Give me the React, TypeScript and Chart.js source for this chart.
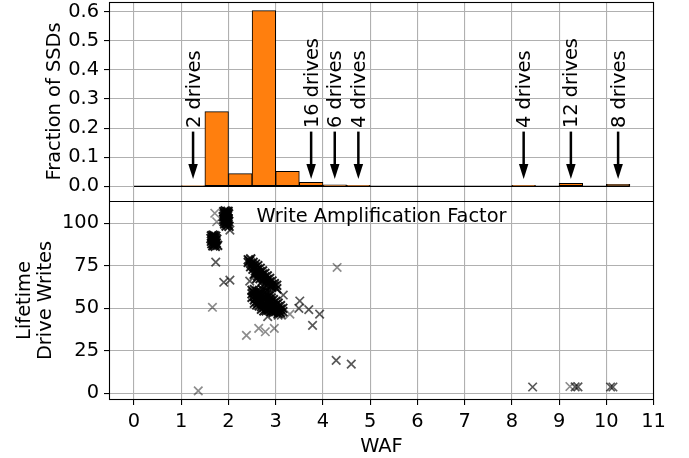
import React, { useEffect, useRef } from 'react';
import { Chart, registerables } from 'chart.js';

Chart.register(...registerables);

// ---------- data ----------
const BIN_CENTERS = [0.25, 0.75, 1.25, 1.75, 2.25, 2.75, 3.25, 3.75, 4.25, 4.75, 5.25, 5.75, 6.25, 6.75, 7.25, 7.75, 8.25, 8.75, 9.25, 9.75, 10.25];
const BIN_FRACTIONS = [0, 0, 0.0017, 0.2564, 0.0433, 0.6034, 0.0515, 0.0137, 0.0051, 0.0034, 0, 0, 0, 0, 0, 0, 0.0034, 0, 0.0103, 0, 0.0069];
const BASELINE_X = [0, 10.5];

const X_TICKS = [0, 1, 2, 3, 4, 5, 6, 7, 8, 9, 10, 11];
const FRAC_TICKS = [0, 0.1, 0.2, 0.3, 0.4, 0.5, 0.6];
const LDW_TICKS = [0, 25, 50, 75, 100];

const ANNOT_WAF = [1.25, 3.75, 4.25, 4.75, 8.25, 9.25, 10.25];
const ANNOT_LABELS = ['2 drives', '16 drives', '6 drives', '4 drives', '4 drives', '12 drives', '8 drives'];
const ARROW_TAIL = 0.188;
const ARROW_TIP = 0.025;
const ANNOT_TEXT_Y = 0.2;

const LIGHT_POINTS: [number, number][] = [
  [1.71, 105.9], [1.75, 100.9], [1.66, 50.6], [1.36, 1.4], [2.38, 34.1], [2.64, 38.2],
  [2.78, 36.2], [2.97, 38.2], [3.30, 46.6], [4.30, 74.0], [9.23, 4.0],
];

const ISOLATED_POINTS: [number, number][] = [
  [1.73, 77.2], [1.90, 65.3], [2.03, 66.6], [2.03, 96.0], [2.45, 66.0], [3.16, 57.8],
  [3.49, 50.0], [3.51, 54.3], [3.70, 49.2], [3.93, 46.6], [3.78, 39.9], [2.83, 45.1],
  [3.05, 46.0], [3.12, 46.0], [4.28, 19.4], [4.60, 17.2], [8.44, 3.7], [9.34, 3.8],
  [9.40, 3.8], [10.09, 3.7], [10.14, 3.7],
];

const CLUSTER_A: [number, number][] = [
  [1.90, 106.8], [1.93, 107.2], [1.96, 106.9], [1.99, 107.0], [1.91, 105.3], [1.94, 105.8],
  [1.97, 105.1], [2.00, 105.5], [1.89, 103.9], [1.92, 104.2], [1.95, 103.6], [1.98, 104.4],
  [1.90, 102.3], [1.93, 102.8], [1.96, 102.1], [1.99, 102.6], [1.91, 100.9], [1.94, 101.3],
  [1.97, 100.6], [2.00, 101.0], [1.92, 99.6], [1.96, 99.9], [1.99, 99.3], [1.95, 98.4], [2.01, 98.2],
  [1.915, 106.0], [1.945, 104.5], [1.975, 103.0], [1.925, 101.8], [1.955, 100.2], [1.985, 106.2],
];

const CLUSTER_B: [number, number][] = [
  [1.64, 92.5], [1.67, 93.0], [1.70, 92.7], [1.73, 92.3], [1.63, 91.0], [1.66, 91.5],
  [1.69, 90.8], [1.72, 91.2], [1.75, 90.6], [1.64, 89.4], [1.67, 89.9], [1.70, 89.2],
  [1.73, 89.6], [1.65, 88.0], [1.68, 88.3], [1.71, 87.8], [1.74, 88.4], [1.67, 86.8],
  [1.72, 86.5], [1.77, 87.0], [1.655, 90.2], [1.685, 91.9], [1.715, 89.9], [1.695, 87.2],
];

const CLUSTER_C_UPPER: [number, number][] = [
  [2.42, 78.5], [2.42, 77.0], [2.47, 79.0], [2.47, 76.5], [2.47, 74.5],
  [2.52, 77.0], [2.52, 75.0], [2.52, 73.0], [2.57, 76.0], [2.57, 74.0], [2.57, 72.0], [2.57, 70.5],
  [2.62, 75.0], [2.62, 73.0], [2.62, 71.0], [2.62, 69.0], [2.67, 73.5], [2.67, 71.5], [2.67, 69.5], [2.67, 67.5],
  [2.72, 72.0], [2.72, 70.0], [2.72, 68.0], [2.72, 66.0], [2.77, 70.5], [2.77, 68.5], [2.77, 66.5], [2.77, 64.5],
  [2.82, 69.0], [2.82, 67.0], [2.82, 65.0], [2.87, 67.5], [2.87, 65.5], [2.87, 63.5],
  [2.92, 66.0], [2.92, 64.0], [2.92, 62.5], [2.97, 64.5], [2.97, 63.0], [3.02, 63.5], [3.02, 61.5],
  [2.445, 77.8], [2.495, 75.8], [2.545, 74.5], [2.595, 72.5], [2.645, 70.5], [2.695, 69.0],
  [2.745, 67.3], [2.795, 65.8], [2.845, 64.3], [2.895, 63.0], [2.545, 70.0], [2.60, 67.5],
];

const CLUSTER_C_LOWER: [number, number][] = [
  [2.50, 60.5], [2.50, 58.5], [2.50, 56.5],
  [2.55, 61.0], [2.55, 59.0], [2.55, 57.0], [2.55, 55.0], [2.55, 53.0],
  [2.60, 60.0], [2.60, 58.0], [2.60, 56.0], [2.60, 54.0], [2.60, 52.0],
  [2.65, 59.5], [2.65, 57.5], [2.65, 55.5], [2.65, 53.5], [2.65, 51.5],
  [2.70, 59.0], [2.70, 57.0], [2.70, 55.0], [2.70, 53.0], [2.70, 51.0], [2.70, 49.5],
  [2.75, 58.5], [2.75, 56.5], [2.75, 54.5], [2.75, 52.5], [2.75, 50.5], [2.75, 48.5],
  [2.80, 58.0], [2.80, 56.0], [2.80, 54.0], [2.80, 52.0], [2.80, 50.0], [2.80, 48.5],
  [2.85, 57.0], [2.85, 55.0], [2.85, 53.0], [2.85, 51.0], [2.85, 49.0],
  [2.90, 56.0], [2.90, 54.0], [2.90, 52.0], [2.90, 50.0], [2.90, 48.0],
  [2.95, 55.0], [2.95, 53.0], [2.95, 51.0], [2.95, 49.0], [2.95, 47.5],
  [3.00, 54.0], [3.00, 52.0], [3.00, 50.0], [3.00, 48.0],
  [3.05, 53.0], [3.05, 51.0], [3.05, 49.0], [3.05, 47.0],
  [3.10, 51.5], [3.10, 49.5], [3.10, 47.5], [3.15, 50.0], [3.15, 48.0],
  [2.525, 59.5], [2.575, 56.0], [2.625, 53.0], [2.675, 58.5], [2.675, 54.5], [2.725, 52.0],
  [2.775, 55.5], [2.825, 50.0], [2.875, 53.5], [2.925, 49.0], [2.975, 51.5], [3.025, 49.5],
  [3.075, 48.0], [2.72, 61.0], [2.80, 60.0], [2.88, 59.0],
];

// ---------- styling ----------
const FONT = 'DejaVu Sans';
const FS = 19.4;
const GRID = '#b0b0b0';
const PLOT_TOP = 2;

const toXY = (pts: [number, number][]) => pts.map(([x, y]) => ({ x, y }));

const overlayPlugin = {
  id: 'overlay',
  afterLayout(chart: any) {
    const a = chart.chartArea;
    const ys = chart.scales.y, ys2 = chart.scales.y2;
    if (!a || !ys || !ys2) return;
    a.top = PLOT_TOP;
    a.height = a.bottom - a.top;
    const mid = (a.top + a.bottom) / 2;
    ys.top = a.top; ys.bottom = mid; ys.height = mid - a.top; ys.configure();
    ys2.top = mid; ys2.bottom = a.bottom; ys2.height = a.bottom - mid; ys2.configure();
  },
  afterDatasetsDraw(chart: any) {
    const { ctx, scales } = chart;
    const xs = scales.x, ys = scales.y;
    ctx.save();
    ctx.fillStyle = '#000';
    ctx.strokeStyle = '#000';
    ANNOT_WAF.forEach((w, i) => {
      const px = xs.getPixelForValue(w);
      const tail = ys.getPixelForValue(ARROW_TAIL);
      const tip = ys.getPixelForValue(ARROW_TIP);
      const headLen = 15, headW = 9.5;
      ctx.lineWidth = 2.5;
      ctx.beginPath();
      ctx.moveTo(px, tail);
      ctx.lineTo(px, tip - headLen + 1);
      ctx.stroke();
      ctx.beginPath();
      ctx.moveTo(px - headW / 2, tip - headLen);
      ctx.lineTo(px + headW / 2, tip - headLen);
      ctx.lineTo(px, tip);
      ctx.closePath();
      ctx.fill();
      const ty = ys.getPixelForValue(ANNOT_TEXT_Y);
      ctx.save();
      ctx.translate(px + 6.5, ty);
      ctx.rotate(-Math.PI / 2);
      ctx.font = `${FS}px "${FONT}"`;
      ctx.textAlign = 'left';
      ctx.textBaseline = 'alphabetic';
      ctx.fillText(ANNOT_LABELS[i], 0, 0);
      ctx.restore();
    });
    ctx.restore();
  },
  afterDraw(chart: any) {
    const { ctx, chartArea: a, scales } = chart;
    const ys = scales.y, ys2 = scales.y2;
    ctx.save();
    ctx.font = `${FS}px "${FONT}"`;
    ctx.fillStyle = '#000';
    ctx.textAlign = 'center';
    ctx.textBaseline = 'alphabetic';
    const cx = (a.left + a.right) / 2;
    ctx.fillText('Write Amplification Factor', cx, ys2.top + 20.5);
    ctx.fillText('WAF', cx, a.bottom + 51.7);
    const rot = (t: string, x: number, y: number) => {
      ctx.save();
      ctx.translate(x, y);
      ctx.rotate(-Math.PI / 2);
      ctx.textAlign = 'center';
      ctx.fillText(t, 0, 0);
      ctx.restore();
    };
    rot('Fraction of SSDs', a.left - 48.6, (ys.top + ys.bottom) / 2);
    rot('Lifetime', a.left - 79.3, (ys2.top + ys2.bottom) / 2);
    rot('Drive Writes', a.left - 57.6, (ys2.top + ys2.bottom) / 2);
    ctx.strokeStyle = '#000';
    ctx.lineWidth = 1.1;
    ctx.strokeRect(a.left + 0.5, a.top + 0.5, a.right - a.left - 1, a.bottom - a.top - 1);
    ctx.beginPath();
    ctx.moveTo(a.left, Math.round(ys2.top) + 0.5);
    ctx.lineTo(a.right, Math.round(ys2.top) + 0.5);
    ctx.stroke();
    ctx.restore();
  },
};

export default function App() {
  const ref = useRef<HTMLCanvasElement>(null);
  useEffect(() => {
    if (!ref.current) return;
    const tickFont = { family: FONT, size: FS };
    const gridOpts = { color: GRID, lineWidth: 1.1, drawTicks: true, tickLength: 5, tickColor: '#000', tickWidth: 1.1 };
    const fitY = (s: any) => { s.width = 109; s.paddingTop = 0; s.paddingBottom = 0; };
    const chart = new Chart(ref.current, {
      type: 'bar',
      data: {
        datasets: [
          {
            type: 'bar',
            data: BIN_CENTERS.map((x, i) => ({ x, y: BIN_FRACTIONS[i] })),
            backgroundColor: '#ff7f0e',
            borderColor: '#000',
            borderWidth: 1,
            borderSkipped: false,
            barPercentage: 1,
            categoryPercentage: 1,
            xAxisID: 'x',
            yAxisID: 'y',
          } as any,
          {
            type: 'line',
            data: BASELINE_X.map((x) => ({ x, y: 0 })),
            borderColor: '#000',
            borderWidth: 1.2,
            pointRadius: 0,
            xAxisID: 'x',
            yAxisID: 'y',
          } as any,
          {
            type: 'scatter',
            data: toXY(LIGHT_POINTS),
            pointStyle: 'crossRot',
            pointRadius: 6,
            borderColor: 'rgba(0,0,0,0.45)',
            borderWidth: 1.7,
            xAxisID: 'x',
            yAxisID: 'y2',
          } as any,
          {
            type: 'scatter',
            data: toXY(ISOLATED_POINTS),
            pointStyle: 'crossRot',
            pointRadius: 6,
            borderColor: 'rgba(0,0,0,0.66)',
            borderWidth: 1.7,
            xAxisID: 'x',
            yAxisID: 'y2',
          } as any,
          {
            type: 'scatter',
            data: toXY([...CLUSTER_A, ...CLUSTER_B, ...CLUSTER_C_UPPER, ...CLUSTER_C_LOWER]),
            pointStyle: 'crossRot',
            pointRadius: 6.3,
            borderColor: 'rgba(0,0,0,0.88)',
            borderWidth: 2,
            xAxisID: 'x',
            yAxisID: 'y2',
          } as any,
        ],
      },
      options: {
        responsive: false,
        animation: false,
        events: [],
        layout: { padding: { left: 0, right: 35, top: 2, bottom: 0 } },
        plugins: { legend: { display: false }, tooltip: { enabled: false } },
        scales: {
          y2: {
            type: 'linear',
            position: 'left',
            stack: 'panels',
            stackWeight: 1,
            min: -3.94,
            max: 113.1,
            afterFit: fitY,
            afterBuildTicks: (s: any) => { s.ticks = LDW_TICKS.map((v) => ({ value: v })); },
            ticks: { font: tickFont, color: '#000', padding: 5, autoSkip: false, callback: (v: any) => String(v) },
            grid: gridOpts,
            border: { display: false },
          },
          y: {
            type: 'linear',
            position: 'left',
            stack: 'panels',
            stackWeight: 1,
            min: -0.0505,
            max: 0.6333,
            afterFit: fitY,
            afterBuildTicks: (s: any) => { s.ticks = FRAC_TICKS.map((v) => ({ value: v })); },
            ticks: { font: tickFont, color: '#000', padding: 5, autoSkip: false, callback: (v: any) => Number(v).toFixed(1) },
            grid: gridOpts,
            border: { display: false },
          },
          x: {
            type: 'linear',
            position: 'bottom',
            min: -0.53,
            max: 11.01,
            offset: false,
            afterFit: (s: any) => { s.height = 58; s.paddingLeft = 0; s.paddingRight = 0; },
            afterBuildTicks: (s: any) => { s.ticks = X_TICKS.map((v) => ({ value: v })); },
            ticks: { font: tickFont, color: '#000', padding: 5, maxRotation: 0, autoSkip: false, callback: (v: any) => String(v) },
            grid: { ...gridOpts, offset: false },
            border: { display: false },
          },
        },
      } as any,
      plugins: [overlayPlugin],
    });
    return () => chart.destroy();
  }, []);
  return (
    <div style={{ position: 'absolute', left: 0, top: 0, width: 689, height: 458, background: '#fff' }}>
      <canvas ref={ref} width={689} height={458} style={{ display: 'block' }} />
    </div>
  );
}
